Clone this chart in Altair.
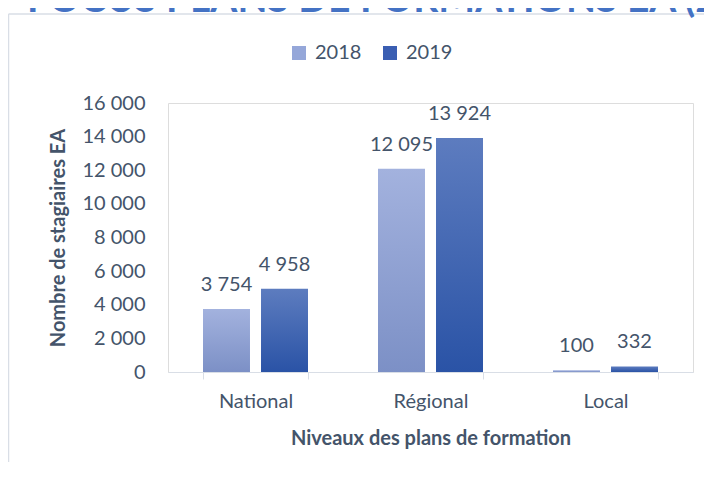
import altair as alt
import pandas as pd

categories = ["National", "Régional", "Local"]
years = ["2018", "2019"]
values_2018 = [3754, 12095, 100]
values_2019 = [4958, 13924, 332]
y_ticks = [0, 2000, 4000, 6000, 8000, 10000, 12000, 14000, 16000]
title_text = "FOCUS PLANS DE FORMATIONS EA (2018-2019)"

rows = []
for i, c in enumerate(categories):
    rows.append({"Niveau": c, "Annee": "2018", "Stagiaires": values_2018[i]})
    rows.append({"Niveau": c, "Annee": "2019", "Stagiaires": values_2019[i]})
df = pd.DataFrame(rows)

FONT = "Lato"
TXT = "#44546A"
LINE = "#D9DEE6"
W, H = 525, 269

x = alt.X(
    "Niveau:N", sort=categories,
    scale=alt.Scale(paddingInner=0.4, paddingOuter=0.2),
    axis=alt.Axis(
        title="Niveaux des plans de formation", labelAngle=0,
        domainColor=LINE, tickColor=LINE, tickSize=7, tickBand="extent",
        labelPadding=12, labelFontSize=20, labelColor=TXT, labelFont=FONT,
        titleFontSize=20, titleFontWeight="bold", titleColor=TXT, titleFont=FONT,
        titleX=W / 2, titleY=66, titleBaseline="middle", titleAlign="center",
    ),
)
xo = alt.XOffset("Annee:N", sort=years,
                 scale=alt.Scale(domain=years, paddingInner=0.19, paddingOuter=0))
y = alt.Y(
    "Stagiaires:Q",
    scale=alt.Scale(domain=[0, 16000], nice=False),
    axis=alt.Axis(
        values=y_ticks, grid=False, domain=False, ticks=False,
        labelExpr="replace(format(datum.value, ','), ',', ' ')",
        labelPadding=23, labelFontSize=20, labelColor=TXT, labelFont=FONT,
        title="Nombre de stagiaires EA", titleFontSize=20, titleFontWeight="bold",
        titleColor=TXT, titleFont=FONT, titleX=-110, titleY=H / 2, titleAngle=270,
        titleAlign="center", titleBaseline="middle",
    ),
)


def grad(top, bottom):
    return alt.Gradient(
        gradient="linear",
        stops=[alt.GradientStop(color=top, offset=0), alt.GradientStop(color=bottom, offset=1)],
        x1=0, x2=0, y1=0, y2=1,
    )


base = alt.Chart(df)

legend_layer = base.mark_bar(opacity=0).encode(
    x=x, xOffset=xo, y=y,
    color=alt.Color(
        "Annee:N",
        scale=alt.Scale(domain=years, range=["#95A7D9", "#3A5EB2"]),
        legend=alt.Legend(
            title=None, orient="none", legendX=121, legendY=-60, direction="horizontal",
            symbolType="square", symbolSize=196, symbolOpacity=1, symbolStrokeWidth=0,
            labelFontSize=20, labelColor=TXT, labelFont=FONT, columnPadding=18, labelOffset=6,
        ),
    ),
)

bars18 = base.transform_filter("datum.Annee == '2018'").mark_bar(
    fill=grad("#A3B2DE", "#7C90C6")
).encode(x=x, xOffset=xo, y=y)

bars19 = base.transform_filter("datum.Annee == '2019'").mark_bar(
    fill=grad("#5D7CBF", "#2A53A6")
).encode(x=x, xOffset=xo, y=y)

labels = base.transform_calculate(
    label="replace(format(datum.Stagiaires, ','), ',', ' ')"
).mark_text(baseline="middle", dy=-24, fontSize=20, color=TXT, font=FONT).encode(
    x=x, xOffset=xo, y=y, text="label:N"
)

frame_df = pd.DataFrame({"k": [0]})
frame_top = alt.Chart(frame_df).mark_rule(color=LINE, strokeWidth=1.5).encode(
    x=alt.value(-159.5), x2=alt.value(W + 20), y=alt.value(-89)
)
frame_left = alt.Chart(frame_df).mark_rule(color=LINE, strokeWidth=1.5).encode(
    x=alt.value(-159.5), y=alt.value(-89), y2=alt.value(H + 100)
)

title_mark = alt.Chart(frame_df).mark_text(
    align="left", baseline="alphabetic", fontSize=39, fontWeight="bold",
    color="#4472C4", font=FONT,
).encode(x=alt.value(-141), y=alt.value(-91), text=alt.value(title_text))

chart = alt.layer(frame_top, frame_left, title_mark, legend_layer, bars18, bars19, labels).properties(
    width=W, height=H,
    autosize=alt.AutoSizeParams(type="none"),
    padding={"left": 160, "top": 95, "right": 11, "bottom": 90},
).configure_view(stroke=None).configure(font=FONT)

chart.save("out.html", embed_options={"renderer": "svg", "actions": False})
